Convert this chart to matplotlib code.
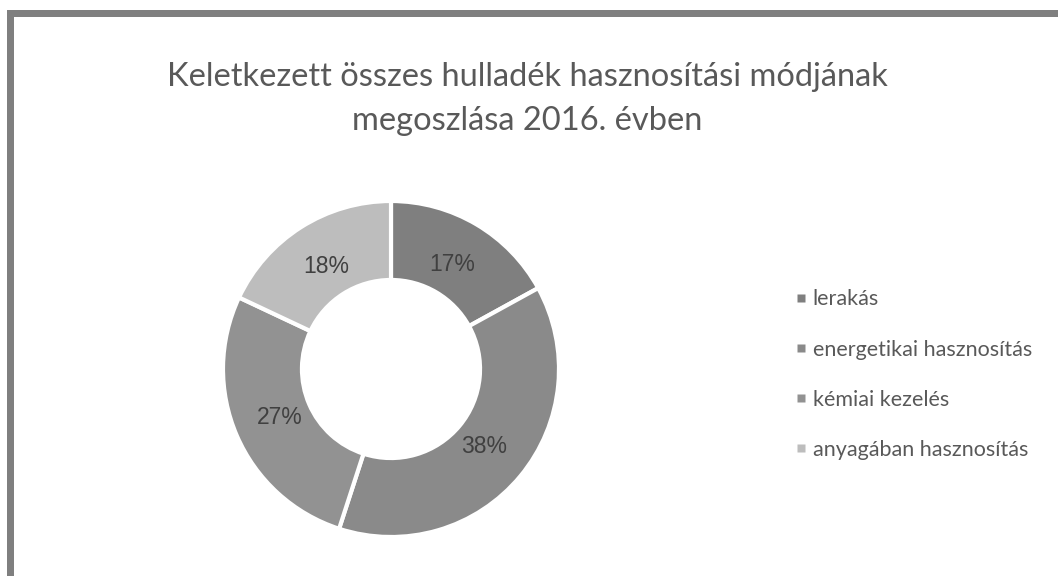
import matplotlib
matplotlib.use("Agg")
import matplotlib.pyplot as plt
from matplotlib.patches import Rectangle
from matplotlib.lines import Line2D

categories = ["lerakás", "energetikai hasznosítás", "kémiai kezelés", "anyagában hasznosítás"]
values = [17, 38, 27, 18]
colors = ["#7f7f7f", "#8a8a8a", "#929292", "#bdbdbd"]
title = "Keletkezett összes hulladék hasznosítási módjának\nmegoszlása 2016. évben"

W, H = 1058, 576
fig = plt.figure(figsize=(W / 100, H / 100), dpi=100)
fig.patch.set_facecolor("white")

# border (top and left)
fig.patches.append(Rectangle((7 / W, 0), 7 / W, (H - 10) / H, transform=fig.transFigure,
                             facecolor="#7f7f7f", edgecolor="none", zorder=0))
fig.patches.append(Rectangle((7 / W, (H - 17) / H), (W - 7) / W, 7 / H, transform=fig.transFigure,
                             facecolor="#7f7f7f", edgecolor="none", zorder=0))

fig.text(527 / W, 1 - 99 / H, title, ha="center", va="center", fontsize=23.5,
         family="Lato", color="#595959", linespacing=1.55)

cx, cy, R = 391, 369, 168
ax = fig.add_axes([(cx - R) / W, (H - cy - R) / H, 2 * R / W, 2 * R / H])
wedges, texts, autotexts = ax.pie(
    values, colors=colors, startangle=90, counterclock=False, radius=1.0,
    autopct=lambda p: f"{p:.0f}%", pctdistance=0.72,
    wedgeprops=dict(width=0.47, edgecolor="white", linewidth=3),
    textprops=dict(fontsize=16.5, color="#404040", family="Liberation Sans"))
ax.set_xlim(-1, 1)
ax.set_ylim(-1, 1)
ax.set_aspect("equal")
ax.axis("off")

handles = [Line2D([0], [0], marker="s", linestyle="none", markersize=5.5,
                  markerfacecolor=c, markeredgecolor="none") for c in colors]
leg = fig.legend(handles, categories, loc="upper left",
                 bbox_to_anchor=(776 / W, 1 - 270 / H), frameon=False,
                 handlelength=0.5, handletextpad=0.3, labelspacing=1.4,
                 prop=dict(family="Lato", size=15.5))
for t in leg.get_texts():
    t.set_color("#595959")

fig.savefig("out.png", dpi=100, facecolor="white")
